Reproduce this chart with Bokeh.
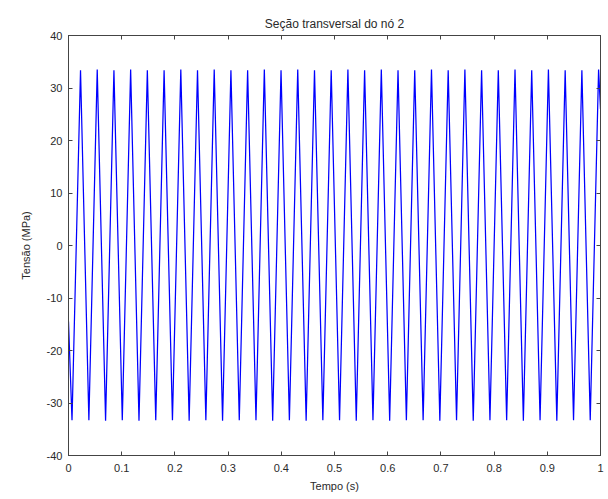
import numpy as np
from bokeh.plotting import figure
from bokeh.models import LinearAxis, FixedTicker, Range1d, CustomLabelingPolicy
from bokeh.embed import file_html
from bokeh.resources import INLINE

title_text = "Seção transversal do nó 2"
x_label = "Tempo (s)"
y_label = "Tensão (MPa)"

x_ticks = [0.0, 0.1, 0.2, 0.3, 0.4, 0.5, 0.6, 0.7, 0.8, 0.9, 1.0]
x_tick_labels = ["0", "0.1", "0.2", "0.3", "0.4", "0.5", "0.6", "0.7", "0.8", "0.9", "1"]
y_ticks = [-40, -30, -20, -10, 0, 10, 20, 30, 40]
y_tick_labels = ["-40", "-30", "-20", "-10", "0", "10", "20", "30", "40"]

# signal: start point, troughs, peaks, end point
start_time = [0.0]
start_value = [-14.5]
trough_times = [0.0066, 0.0383, 0.0697, 0.1011, 0.1325, 0.1640, 0.1954, 0.2268,
                0.2582, 0.2896, 0.3210, 0.3524, 0.3838, 0.4152, 0.4467, 0.4781,
                0.5095, 0.5409, 0.5723, 0.6037, 0.6351, 0.6666, 0.6980, 0.7294,
                0.7608, 0.7922, 0.8236, 0.8550, 0.8864, 0.9179, 0.9493, 0.9807]
trough_values = [-33.3, -33.3, -33.4, -33.3, -33.4, -33.3, -33.3, -33.4,
                 -33.3, -33.4, -33.3, -33.3, -33.4, -33.3, -33.4, -33.3,
                 -33.3, -33.4, -33.3, -33.4, -33.3, -33.3, -33.4, -33.3,
                 -33.4, -33.3, -33.3, -33.4, -33.3, -33.4, -33.3, -33.3]
peak_times = [0.0226, 0.0540, 0.0854, 0.1168, 0.1482, 0.1797, 0.2111, 0.2425,
              0.2739, 0.3053, 0.3367, 0.3681, 0.3995, 0.4309, 0.4624, 0.4938,
              0.5252, 0.5566, 0.5880, 0.6194, 0.6508, 0.6823, 0.7137, 0.7451,
              0.7765, 0.8079, 0.8393, 0.8707, 0.9021, 0.9336, 0.9650, 0.9964]
peak_values = [33.4, 33.5, 33.4, 33.5, 33.4, 33.4, 33.5, 33.4,
               33.5, 33.4, 33.4, 33.5, 33.4, 33.5, 33.4, 33.4,
               33.5, 33.4, 33.5, 33.4, 33.4, 33.5, 33.4, 33.5,
               33.4, 33.4, 33.5, 33.4, 33.5, 33.4, 33.4, 33.5]
end_time = [1.0]
end_value = [26.0]

t = np.concatenate([start_time, trough_times, peak_times, end_time])
v = np.concatenate([start_value, trough_values, peak_values, end_value])
order = np.argsort(t)
t = t[order]
v = v[order]

FONT = "Liberation Sans"
TXT = "#2a2a2a"
AX = "#444444"

p = figure(width=608, height=499, output_backend="svg", toolbar_location=None,
           x_range=Range1d(0, 1), y_range=Range1d(-40, 40),
           min_border_left=68, min_border_right=8, min_border_top=35, min_border_bottom=44,
           background_fill_color="white", border_fill_color="white")
p.title.text = title_text
p.title.align = "center"
p.title.text_font = FONT
p.title.text_font_size = "12px"
p.title.text_font_style = "normal"
p.title.text_color = TXT
p.xgrid.visible = False
p.ygrid.visible = False
p.outline_line_color = AX

p.line(t, v, line_color="#0000ff", line_width=1.25)

def style(ax, ticks, labels, show):
    ax.ticker = FixedTicker(ticks=ticks)
    ax.major_label_overrides = {tk: lb for tk, lb in zip(ticks, labels)}
    ax.minor_tick_line_color = None
    ax.major_tick_in = 4
    ax.major_tick_out = 0
    ax.axis_line_color = AX
    ax.major_tick_line_color = AX
    ax.major_label_text_font = FONT
    ax.major_label_text_font_size = "11px"
    ax.major_label_text_color = TXT
    ax.axis_label_text_font = FONT
    ax.axis_label_text_font_size = "11px"
    ax.axis_label_text_font_style = "normal"
    ax.axis_label_text_color = TXT
    if not show:
        ax.major_label_text_font_size = "0px"
        ax.major_label_standoff = 0
        ax.major_label_policy = CustomLabelingPolicy(code="return []")

style(p.xaxis[0], x_ticks, x_tick_labels, True)
style(p.yaxis[0], y_ticks, y_tick_labels, True)
p.xaxis[0].axis_label = x_label
p.yaxis[0].axis_label = y_label
p.xaxis[0].major_label_standoff = 8
p.xaxis[0].axis_label_standoff = 5
p.yaxis[0].major_label_standoff = 6
p.yaxis[0].axis_label_standoff = 12

top = LinearAxis()
right = LinearAxis()
style(top, x_ticks, x_tick_labels, False)
style(right, y_ticks, y_tick_labels, False)
p.add_layout(top, "above")
p.add_layout(right, "right")

open("out.html", "w").write(file_html(p, INLINE))
